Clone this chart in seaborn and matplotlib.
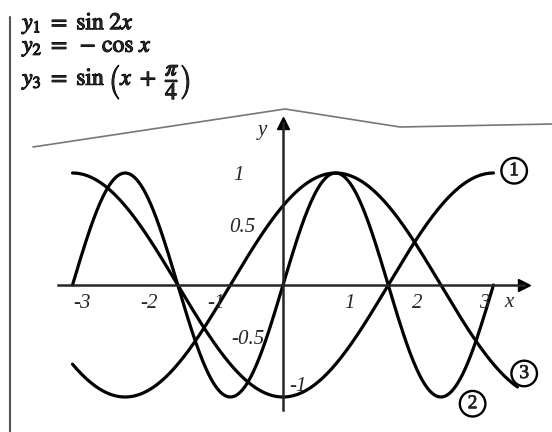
#====================================================================
# Graficas: y1 = sin 2x, y2 = -cos x, y3 = sin(x + pi/4)
#====================================================================

import numpy as np
import pandas as pd
import matplotlib
matplotlib.use("Agg")
import matplotlib.pyplot as plt
import matplotlib.patheffects as pe
import seaborn as sns
from matplotlib.lines import Line2D

#====================================================================
# DATOS
#====================================================================

curve_names = ["1", "2", "3"]
x_start = -np.pi
x_end_12 = np.pi
x_end_3 = 3.5

x_ticks = [-3, -2, -1, 1, 2, 3]
x_tick_labels = ["-3", "-2", "-1", "1", "2", "3"]
y_ticks = [1, 0.5, -0.5, -1]
y_tick_labels = ["1", "0.5", "-0.5", "-1"]

formulas = [
    r"$y_1\ =\ \sin\,2x$",
    r"$y_2\ =\ -\,\cos\,x$",
    r"$y_3\ =\ \sin\,\left(x\ +\ \dfrac{\pi}{4}\right)$",
]

x12 = np.linspace(x_start, x_end_12, 400)
x3 = np.linspace(x_start, x_end_3, 400)

df = pd.concat([
    pd.DataFrame({"x": x12, "y": -np.cos(x12), "curve": "1"}),
    pd.DataFrame({"x": x12, "y": np.sin(2 * x12), "curve": "2"}),
    pd.DataFrame({"x": x3, "y": np.sin(x3 + np.pi / 4), "curve": "3"}),
])

#====================================================================
# FIGURA
#====================================================================

sns.set_style("white")
plt.rcParams["mathtext.fontset"] = "stix"

fig = plt.figure(figsize=(5.52, 4.32), dpi=100)
ax = fig.add_axes([0, 0, 1, 1])

sns.lineplot(
    data=df, x="x", y="y", units="curve", estimator=None,
    color="black", linewidth=2.3, sort=False, ax=ax
)

ax.set_xlim(-283 / 67, 269 / 67)
ax.set_ylim(-147 / 112, 285 / 112)
ax.set_xlabel("")
ax.set_ylabel("")

# ejes en el origen
for side in ["top", "right"]:
    ax.spines[side].set_visible(False)
ax.spines["left"].set_position(("data", 0))
ax.spines["bottom"].set_position(("data", 0))
ax.spines["left"].set_bounds(-1.12, 1.45)
ax.spines["bottom"].set_bounds(-3.36, 3.6)
ax.spines["left"].set_linewidth(1.8)
ax.spines["bottom"].set_linewidth(1.8)
ax.plot(3.6, 0, ">", color="black", markersize=8, clip_on=False)
ax.plot(0, 1.45, "^", color="black", markersize=8, clip_on=False)

ax.set_xticks(x_ticks)
ax.set_yticks(y_ticks)
ax.set_xticklabels([])
ax.set_yticklabels([])
ax.tick_params(axis="x", direction="in", length=6, width=1.2)
ax.tick_params(axis="y", direction="out", length=6, width=1.2)

tick_font = dict(family="Liberation Serif", style="italic", fontsize=15)
for t, lab in zip(x_ticks, x_tick_labels):
    ax.text(t, -0.08, lab, ha="center", va="top", **tick_font)

y_label_pos = [(-0.67, 0.98), (-0.6, 0.51), (-0.52, -0.49), (0.22, -0.91)]
for (lx, ly), lab in zip(y_label_pos, y_tick_labels):
    ax.text(lx, ly, lab, ha="center", va="center", **tick_font)

ax.text(3.37, -0.16, "x", ha="center", va="center", **tick_font)
ax.text(-0.31, 1.38, "y", ha="center", va="center", **tick_font)

# etiquetas de curvas
label_pos = {"1": (3.45, 1.02), "2": (2.83, -1.06), "3": (3.6, -0.79)}
for name in curve_names:
    lx, ly = label_pos[name]
    ax.text(lx, ly, name, ha="center", va="center", fontsize=14,
            family="Liberation Serif",
            path_effects=[pe.withStroke(linewidth=0.5, foreground="black")],
            bbox=dict(boxstyle="circle,pad=0.22", fc="white", ec="black",
                      lw=1.7))

# formulas
for i, f in enumerate(formulas):
    ypos = [0.945, 0.892, 0.812][i]
    fig.text(0.04, ypos, f, ha="left", va="center", fontsize=17,
             path_effects=[pe.withStroke(linewidth=0.8, foreground="black")])

# borde de pagina y pliegue
fig.add_artist(Line2D([0.018, 0.018], [0.0, 0.96], color="#555555",
                      linewidth=1.5))
fig.add_artist(Line2D([33 / 552, 285 / 552, 400 / 552, 1.0],
                      [1 - 147 / 432, 1 - 109 / 432, 1 - 127 / 432, 1 - 124 / 432],
                      color="#777777", linewidth=1.2))

plt.savefig("out.png", dpi=100)
